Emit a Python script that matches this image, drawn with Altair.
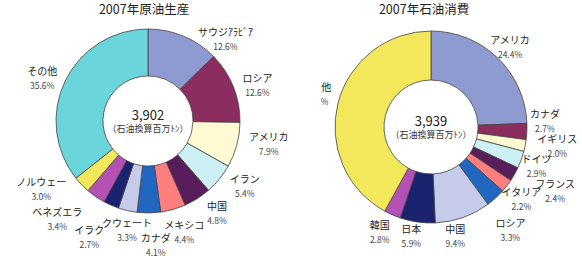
import math
import altair as alt
import pandas as pd

# ---------------- data ----------------
prod_names = ["サウジｱﾗﾋﾞｱ", "ロシア", "アメリカ", "イラン", "中国", "メキシコ",
              "カナダ", "クウェート", "イラク", "ベネズエラ", "ノルウェー", "その他"]
prod_values = [12.6, 12.6, 7.9, 5.4, 4.8, 4.4, 4.1, 3.3, 2.7, 3.4, 3.0, 35.6]
prod_total = "3,902"

cons_names = ["アメリカ", "カナダ", "イギリス", "ドイツ", "フランス", "イタリア",
              "ロシア", "中国", "日本", "韓国", "その他"]
cons_values = [24.4, 2.7, 2.0, 2.9, 2.4, 2.2, 3.3, 9.4, 5.9, 2.8, 42.0]
cons_total = "3,939"

unit_label = "（石油換算百万ﾄﾝ）"
prod_title = "2007年原油生産"
cons_title = "2007年石油消費"

# ---------------- styles / layout ----------------
prod_colors = ["#8f9bd0", "#8b2e5f", "#fffad2", "#cdf0f4", "#5a1d5b", "#ff7f7f",
               "#2166c0", "#c6cbea", "#1b2370", "#b551b4", "#f3e85b", "#6ad5db"]
cons_colors = ["#8f9bd0", "#8b2e5f", "#fffad2", "#cdf0f4", "#5a1d5b", "#ff7f7f",
               "#2166c0", "#c6cbea", "#1b2370", "#b551b4", "#f3e85b"]

# label radius (px) and angular nudge (deg) from each slice's mid-angle
prod_lab_r = [112, 115, 123, 117, 116, 118, 125, 112, 131, 134, 127, 114]
prod_lab_nudge = [21, 4, -4, -5, -4, -2, -3, -2, 3, 8, 11, -4]
cons_lab_r = [112, 114, 128, 113, 140, 116, 131, 113, 112, 118, 119]
cons_lab_nudge = [1, -5, -2, 1, -2, 1, 5, 7, 2, 2, 1]

FONT = "Noto Sans CJK JP"
LEFT_W, RIGHT_W, H = 321, 261, 259


def label_table(names, values, radii, nudges, cx, cy):
    total = sum(values)
    cum = 0.0
    rows = []
    for n, v, r, d in zip(names, values, radii, nudges):
        ang = math.radians((cum + v / 2) / total * 360 + d)
        cum += v
        rows.append({"name": n, "pct": f"{v:.1f}%",
                     "lx": cx + r * math.sin(ang), "ly": cy - r * math.cos(ang)})
    return pd.DataFrame(rows)


def donut(names, values, colors, radii, nudges, cx, cy, r_in, r_out,
          total_txt, title_txt, title_x, width, clip_labels=False):
    df = pd.DataFrame({"name": names, "v": values, "c": colors,
                       "i": list(range(len(names)))})
    arcs = alt.Chart(df).mark_arc(
        innerRadius=r_in, outerRadius=r_out, stroke="#444", strokeWidth=0.8
    ).encode(
        theta=alt.Theta("v:Q", stack=True),
        color=alt.Color("c:N", scale=None),
        order=alt.Order("i:Q"),
        x=alt.value(cx), y=alt.value(cy),
    )
    lab = label_table(names, values, radii, nudges, cx, cy)
    names_l = alt.Chart(lab).mark_text(
        font=FONT, fontSize=10, color="#222", dy=-7, clip=clip_labels
    ).encode(x=alt.X("lx:Q", scale=None), y=alt.Y("ly:Q", scale=None), text="name:N")
    pct_l = alt.Chart(lab).mark_text(
        font=FONT, fontSize=8.5, color="#444", dy=7, clip=clip_labels
    ).encode(x=alt.X("lx:Q", scale=None), y=alt.Y("ly:Q", scale=None), text="pct:N")

    ctr = pd.DataFrame({"t": [total_txt, unit_label], "k": [0, 1]})
    c1 = alt.Chart(ctr).transform_filter("datum.k == 0").mark_text(
        font=FONT, fontSize=13, color="#222"
    ).encode(x=alt.value(cx), y=alt.value(cy - 5), text="t:N")
    c2 = alt.Chart(ctr).transform_filter("datum.k == 1").mark_text(
        font=FONT, fontSize=9, color="#333"
    ).encode(x=alt.value(cx), y=alt.value(cy + 8), text="t:N")
    ttl = alt.Chart(pd.DataFrame({"t": [title_txt]})).mark_text(
        font=FONT, fontSize=12.5, color="#222"
    ).encode(x=alt.value(title_x), y=alt.value(10), text="t:N")

    return alt.layer(arcs, names_l, pct_l, c1, c2, ttl).properties(
        width=width, height=H
    ).resolve_scale(theta="independent")


left = donut(prod_names, prod_values, prod_colors, prod_lab_r, prod_lab_nudge,
             148, 121, 45, 92, prod_total, prod_title, 144, LEFT_W)
right = donut(cons_names, cons_values, cons_colors, cons_lab_r, cons_lab_nudge,
              431 - LEFT_W, 127, 47, 96, cons_total, cons_title, 424 - LEFT_W,
              RIGHT_W, clip_labels=True)

chart = alt.hconcat(left, right, spacing=0, bounds="flush").properties(
    padding=0, background="white"
).configure_view(stroke=None)

chart.save("out.html", embed_options={"renderer": "svg", "actions": False})
